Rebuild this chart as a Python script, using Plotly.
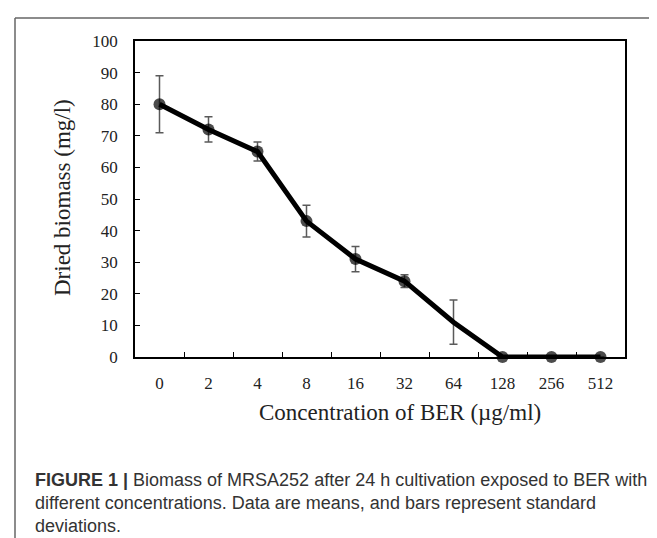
import plotly.graph_objects as go

# ---- data ----
concentrations = ["0", "2", "4", "8", "16", "32", "64", "128", "256", "512"]
biomass = [80, 72, 65, 43, 31, 24, 11, 0, 0, 0]
std_dev = [9, 4, 3, 5, 4, 2, 7, 0, 0, 0]
marker_sizes = [12, 12, 12, 12, 12, 12, 0, 12, 12, 12]
y_ticks = [0, 10, 20, 30, 40, 50, 60, 70, 80, 90, 100]

x_title = "Concentration of BER (µg/ml)"
y_title = "Dried biomass (mg/l)"
caption_lines = [
    "<b>FIGURE 1 |</b> Biomass of MRSA252 after 24 h cultivation exposed to BER with",
    "different concentrations. Data are means, and bars represent standard",
    "deviations.",
]

W, H = 657, 538
L, R, T, B = 127, 617, 33, 349  # plot area in pixels
pw, ph = R - L, B - T


def px_x(x):
    return (x - L) / pw


def px_y(y):
    return (B - y) / ph


serif = "Liberation Serif, Times New Roman, serif"
sans = "Liberation Sans, Arial, Helvetica, sans-serif"

fig = go.Figure()
# error bars (drawn first, beneath)
fig.add_trace(go.Scatter(
    x=concentrations,
    y=biomass,
    mode="lines",
    line=dict(color="rgba(0,0,0,0)", width=0),
    error_y=dict(type="data", array=std_dev, visible=True,
                 color="#5a5a5a", thickness=1.5, width=4),
    cliponaxis=False,
    showlegend=False,
    hoverinfo="skip",
))
# line + markers on top
fig.add_trace(go.Scatter(
    x=concentrations,
    y=biomass,
    mode="lines+markers",
    line=dict(color="black", width=5),
    marker=dict(color="black", size=marker_sizes, line=dict(width=0)),
    cliponaxis=False,
    showlegend=False,
))

fig.update_layout(
    width=W, height=H,
    margin=dict(l=L, r=W - R, t=T, b=H - B, pad=0),
    paper_bgcolor="white",
    plot_bgcolor="white",
    xaxis=dict(
        type="category",
        categoryorder="array", categoryarray=concentrations,
        range=[-0.5, len(concentrations) - 0.5],
        showline=True, mirror=True, linecolor="black", linewidth=1.5,
        ticks="inside", ticklen=5, tickwidth=1.2, tickcolor="black",
        tickson="boundaries",
        showgrid=False, zeroline=False,
        tickfont=dict(family=serif, size=17, color="#222"),
        ticklabelstandoff=10,
    ),
    yaxis=dict(
        range=[0, 100],
        tickvals=y_ticks,
        showline=True, mirror=True, linecolor="black", linewidth=1.5,
        ticks="inside", ticklen=5, tickwidth=1.2, tickcolor="black",
        showgrid=False, zeroline=False,
        tickfont=dict(family=serif, size=17, color="#222"),
        ticklabelstandoff=12,
    ),
)

annotations = [
    dict(text=y_title, xref="paper", yref="paper",
         x=px_x(54), y=px_y(190), xanchor="center", yanchor="middle",
         textangle=-90, showarrow=False,
         font=dict(family=serif, size=23, color="#222")),
    dict(text=x_title, xref="paper", yref="paper",
         x=px_x(392), y=px_y(404), xanchor="center", yanchor="middle",
         showarrow=False,
         font=dict(family=serif, size=23, color="#222")),
]
for i, line in enumerate(caption_lines):
    annotations.append(dict(
        text=line, xref="paper", yref="paper",
        x=px_x(25), y=px_y(472 + 23 * i), xanchor="left", yanchor="middle",
        align="left", showarrow=False,
        font=dict(family=sans, size=18, color="#333")))
fig.update_layout(annotations=annotations)

# outer frame lines (left and top)
fig.add_shape(type="line", xref="paper", yref="paper",
              x0=px_x(7), x1=px_x(7), y0=px_y(10), y1=px_y(560),
              line=dict(color="#666", width=1.5))
fig.add_shape(type="line", xref="paper", yref="paper",
              x0=px_x(7), x1=px_x(700), y0=px_y(10), y1=px_y(10),
              line=dict(color="#666", width=1.5))

fig.write_html("out.html")
